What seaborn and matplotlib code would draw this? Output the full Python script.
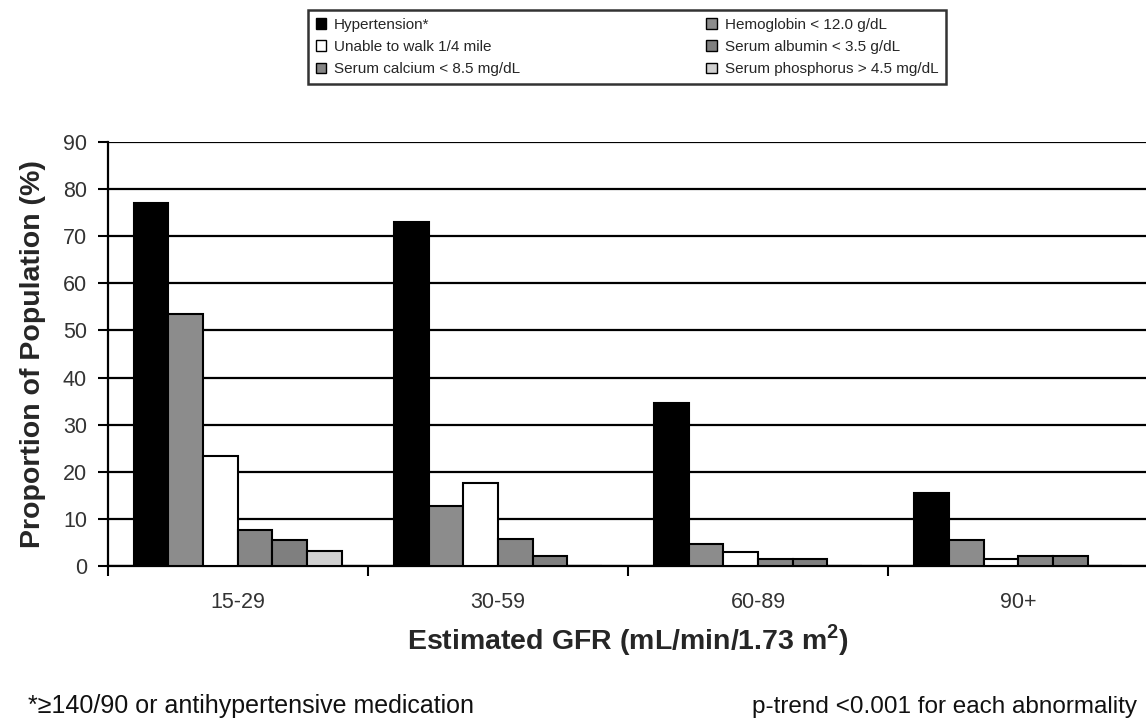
# Proportion of population with each abnormality by eGFR category
import pandas as pd
import matplotlib
matplotlib.use("Agg")
import matplotlib.pyplot as plt
from matplotlib.patches import Patch
from matplotlib.ticker import FixedLocator
import seaborn as sns

# data
gfr_groups = ['15-29', '30-59', '60-89', '90+']
measures = [
    'Hypertension*', 'Hemoglobin < 12.0 g/dL', 'Unable to walk 1/4 mile',
    'Serum calcium < 8.5 mg/dL', 'Serum albumin < 3.5 g/dL',
    'Serum phosphorus > 4.5 mg/dL'
]
hypertension = [77.0, 73.0, 34.5, 15.4]
hemoglobin = [53.5, 12.8, 4.6, 5.5]
unable_walk = [23.4, 17.6, 3.0, 1.5]
calcium = [7.7, 5.7, 1.4, 2.1]
albumin = [5.5, 2.1, 1.4, 2.1]
phosphorus = [3.2, 0.0, 0.0, 0.0]
y_ticks = [0, 10, 20, 30, 40, 50, 60, 70, 80, 90]

series = [hypertension, hemoglobin, unable_walk, calcium, albumin, phosphorus]
rows = []
for name, vals in zip(measures, series):
    for grp, v in zip(gfr_groups, vals):
        rows.append({'GFR': grp, 'Measure': name, 'Value': v})
df = pd.DataFrame(rows)

colors = {
    'Hypertension*': '#000000',
    'Hemoglobin < 12.0 g/dL': '#8c8c8c',
    'Unable to walk 1/4 mile': '#ffffff',
    'Serum calcium < 8.5 mg/dL': '#868686',
    'Serum albumin < 3.5 g/dL': '#7f7f7f',
    'Serum phosphorus > 4.5 mg/dL': '#d0d0d0',
}

sns.set_style("white")
plt.rcParams['font.family'] = ['Liberation Sans', 'DejaVu Sans']
plt.rcParams['mathtext.fontset'] = 'custom'
plt.rcParams['mathtext.rm'] = 'Liberation Sans'
plt.rcParams['mathtext.bf'] = 'Liberation Sans:bold'

fig = plt.figure(figsize=(11.46, 7.26), dpi=100)
ax = fig.add_axes([0.094, 0.2204, 0.908, 0.584])

sns.barplot(data=df, x='GFR', y='Value', hue='Measure', order=gfr_groups,
            hue_order=measures, palette=colors, edgecolor='black',
            linewidth=1.5, width=0.8, legend=False, ax=ax, zorder=3)

ax.set_xlim(-0.5, 3.5)
ax.set_ylim(0, 90)
ax.set_yticks(y_ticks)
ax.yaxis.grid(True, color='black', linewidth=1.6, zorder=0)
ax.set_axisbelow(True)
ax.tick_params(axis='y', direction='out', length=7, width=1.5, color='black',
               labelsize=15.5, labelcolor='#333333', pad=8, left=True)
ax.tick_params(axis='x', which='major', length=0, labelsize=15.5,
               labelcolor='#333333', pad=19)
ax.xaxis.set_minor_locator(FixedLocator([-0.5, 0.5, 1.5, 2.5]))
ax.tick_params(axis='x', which='minor', direction='out', length=7, width=1.5,
               color='black', bottom=True)

for side in ['top', 'right']:
    ax.spines[side].set_visible(False)
for side in ['left', 'bottom']:
    ax.spines[side].set_linewidth(1.6)
    ax.spines[side].set_color('black')

ax.set_xlabel('Estimated GFR (mL/min/1.73 m$^{\\mathbf{2}}$)', fontsize=20.5,
              fontweight='bold', labelpad=6)
ax.set_ylabel('Proportion of Population (%)', fontsize=20.5, fontweight='bold',
              labelpad=12)

# legend in two columns, same order as the reference box
legend_order = [0, 2, 3, 1, 4, 5]
handles = [Patch(facecolor=colors[measures[i]], edgecolor='black', linewidth=1)
           for i in legend_order]
labels = [measures[i] for i in legend_order]
leg = fig.legend(handles, labels, ncol=2, loc='upper left', mode='expand',
                 bbox_to_anchor=(308 / 1146, 1 - 100 / 726, 638 / 1146, 90 / 726),
                 fontsize=11, frameon=True, fancybox=False, edgecolor='black',
                 handlelength=0.7, handleheight=0.7, handletextpad=0.5,
                 labelspacing=0.55, borderpad=0.5, borderaxespad=0)
leg.get_frame().set_linewidth(1.8)

# footnotes
fig.text(28 / 1146, 0.018, '*\u2265140/90 or antihypertensive medication',
         fontsize=18, color='#111111')
fig.text(752 / 1146, 0.018, 'p-trend <0.001 for each abnormality',
         fontsize=17.5, color='#111111')

fig.savefig('out.png', dpi=100)
